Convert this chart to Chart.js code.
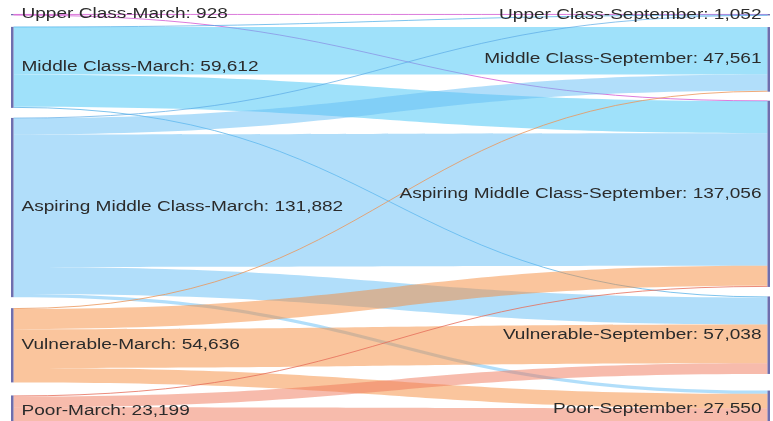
<!DOCTYPE html>
<html><head><meta charset="utf-8">
<script src="https://cdn.jsdelivr.net/npm/chart.js@4.4.1/dist/chart.umd.min.js"></script>
<style>
html,body{margin:0;padding:0;background:#fff;overflow:hidden;}
#wrap{position:relative;width:773px;height:428px;}
</style></head><body>
<div id="wrap"><canvas id="c"></canvas></div>
<script>
// ---- data ----
const categories = ['Upper Class', 'Middle Class', 'Aspiring Middle Class', 'Vulnerable', 'Poor'];
const periods = ['March', 'September'];
const marchTotals = [928, 59612, 131882, 54636, 23199];
const septemberTotals = [1052, 47561, 137056, 57038, 27550];
// flows from each March class to September classes (same order as categories)
const fromUpper      = [650, 0, 278, 0, 0];
const fromMiddle     = [150, 35000, 23700, 762, 0];
const fromAspiring   = [252, 11900, 97500, 19830, 2400];
const fromVulnerable = [0, 661, 14800, 28500, 10675];
const fromPoor       = [0, 0, 778, 7946, 14475];
const flowRows = [fromUpper, fromMiddle, fromAspiring, fromVulnerable, fromPoor];

// ---- styling / layout constants ----
const marchGaps = [8550, 7400, 8100, 9600];        // padding between stacked nodes (value units)
const septemberGaps = [8550, 6630, 7000, 12230];
const nodeWidth = 2.5;
const flowColors = ['rgba(215,100,215,0.6)', 'rgba(80,200,245,0.55)', 'rgba(100,190,245,0.5)', 'rgba(245,140,60,0.5)', 'rgba(240,120,90,0.5)'];
const thinColors = ['rgba(210,90,210,0.8)', 'rgba(70,170,230,0.7)', 'rgba(90,170,230,0.7)', 'rgba(235,150,90,0.8)', 'rgba(230,110,90,0.8)'];
const nodeColor = 'rgba(85,85,160,0.85)';
const labelColor = '#2b2b2b';
const labelFont = '14px "Liberation Sans", Arial, sans-serif';
const textStretch = 1.36;

const sumArr = arr => arr.reduce((a, b) => a + b, 0);
const totalSpan = Math.max(sumArr(marchTotals) + sumArr(marchGaps), sumArr(septemberTotals) + sumArr(septemberGaps));

const fmt = v => v.toLocaleString('en-US');

const sankeyPlugin = {
  id: 'sankeyDraw',
  afterDatasetsDraw(chart) {
    const ctx = chart.ctx;
    const xs = chart.scales.x, ys = chart.scales.y;
    const xL = xs.getPixelForValue(0), xR = xs.getPixelForValue(1);
    const leftTop = [], rightTop = [];
    let a = 0, b = 0;
    for (let i = 0; i < categories.length; i++) {
      leftTop.push(a); a += marchTotals[i] + (marchGaps[i] || 0);
      rightTop.push(b); b += septemberTotals[i] + (septemberGaps[i] || 0);
    }
    const outOff = leftTop.slice(), inOff = rightTop.slice();
    const x0 = xL + nodeWidth, x1 = xR - nodeWidth, xm = (x0 + x1) / 2;
    ctx.save();
    for (let i = 0; i < flowRows.length; i++) {
      for (let j = 0; j < flowRows[i].length; j++) {
        const v = flowRows[i][j];
        if (v <= 0) continue;
        const y0a = ys.getPixelForValue(outOff[i]), y0b = ys.getPixelForValue(outOff[i] + v);
        const y1a = ys.getPixelForValue(inOff[j]), y1b = ys.getPixelForValue(inOff[j] + v);
        outOff[i] += v; inOff[j] += v;
        const th = y0b - y0a;
        if (th < 1.2) {
          const c0 = (y0a + y0b) / 2, c1 = (y1a + y1b) / 2;
          ctx.beginPath();
          ctx.moveTo(x0, c0);
          ctx.bezierCurveTo(xm, c0, xm, c1, x1, c1);
          ctx.strokeStyle = thinColors[i];
          ctx.lineWidth = 1;
          ctx.stroke();
        } else {
          ctx.beginPath();
          ctx.moveTo(x0, y0a);
          ctx.bezierCurveTo(xm, y0a, xm, y1a, x1, y1a);
          ctx.lineTo(x1, y1b);
          ctx.bezierCurveTo(xm, y1b, xm, y0b, x0, y0b);
          ctx.closePath();
          ctx.fillStyle = flowColors[i];
          ctx.fill();
        }
      }
    }
    // nodes
    ctx.fillStyle = nodeColor;
    for (let i = 0; i < categories.length; i++) {
      const t = ys.getPixelForValue(leftTop[i]), h = Math.max(1, ys.getPixelForValue(leftTop[i] + marchTotals[i]) - t);
      ctx.fillRect(xL, t, nodeWidth, h);
      const t2 = ys.getPixelForValue(rightTop[i]), h2 = Math.max(1, ys.getPixelForValue(rightTop[i] + septemberTotals[i]) - t2);
      ctx.fillRect(xR - nodeWidth, t2, nodeWidth, h2);
    }
    // labels
    ctx.font = labelFont;
    ctx.fillStyle = labelColor;
    ctx.textBaseline = 'middle';
    for (let i = 0; i < categories.length; i++) {
      const cy = ys.getPixelForValue(leftTop[i] + marchTotals[i] / 2);
      ctx.save();
      ctx.translate(xL + nodeWidth + 8, cy);
      ctx.scale(textStretch, 1);
      ctx.textAlign = 'left';
      ctx.fillText(categories[i] + '-' + periods[0] + ': ' + fmt(marchTotals[i]), 0, 0);
      ctx.restore();
      const cy2 = ys.getPixelForValue(rightTop[i] + septemberTotals[i] / 2);
      ctx.save();
      ctx.translate(xR - nodeWidth - 6, cy2);
      ctx.scale(textStretch, 1);
      ctx.textAlign = 'right';
      ctx.fillText(categories[i] + '-' + periods[1] + ': ' + fmt(septemberTotals[i]), 0, 0);
      ctx.restore();
    }
    ctx.restore();
  }
};

new Chart(document.getElementById('c'), {
  type: 'scatter',
  data: { datasets: [{ data: [] }] },
  options: {
    responsive: true,
    maintainAspectRatio: false,
    animation: false,
    layout: { padding: { left: 11, right: 3, top: 14, bottom: 0 } },
    plugins: { legend: { display: false }, tooltip: { enabled: false } },
    scales: {
      x: { type: 'linear', min: 0, max: 1, display: false },
      y: { type: 'linear', min: 0, max: totalSpan, reverse: true, display: false }
    }
  },
  plugins: [sankeyPlugin]
});
</script>
</body></html>
